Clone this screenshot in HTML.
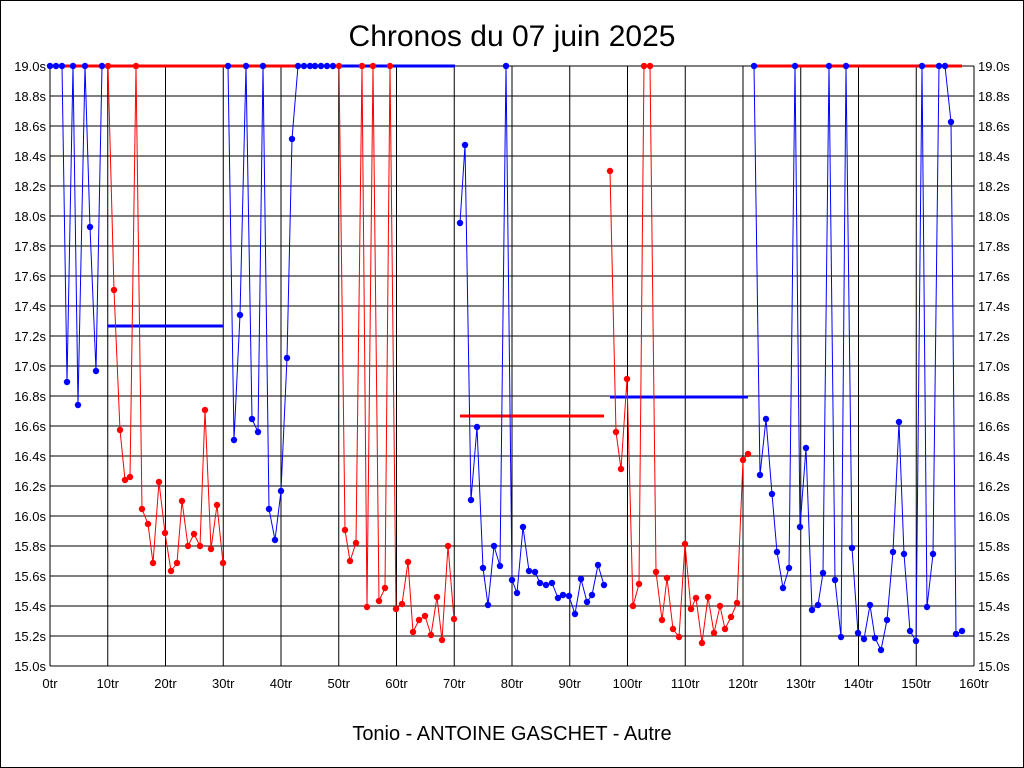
<!DOCTYPE html>
<html><head><meta charset="utf-8"><style>
body{margin:0;background:#fff}
svg{display:block;font-family:"Liberation Sans",sans-serif}
</style></head><body>
<svg width="1024" height="768" xmlns="http://www.w3.org/2000/svg">
<rect x="0.5" y="0.5" width="1023" height="767" fill="#fff" stroke="#000"/>
<text x="512" y="46" font-size="30" text-anchor="middle">Chronos du 07 juin 2025</text>
<text x="512" y="740" font-size="20" text-anchor="middle">Tonio - ANTOINE GASCHET - Autre</text>
<g id="grid" stroke="#000" stroke-width="1"></g>
<g id="lab" font-size="13"></g>
<g id="data"></g>
<script>
var g=document.getElementById('grid'),l=document.getElementById('lab'),d=document.getElementById('data');
var NS='http://www.w3.org/2000/svg';
function el(p,t,a,tx){var e=document.createElementNS(NS,t);for(var k in a)e.setAttribute(k,a[k]);if(tx)e.textContent=tx;p.appendChild(e);return e;}
for(var i=0;i<=20;i++){var y=66+i*30;el(g,'line',{x1:50,x2:974,y1:y,y2:y});
var v=(19-i*0.2).toFixed(1)+'s';el(l,'text',{x:46,y:y+5,'text-anchor':'end'},v);el(l,'text',{x:978,y:y+5},v);}
for(var i=0;i<=16;i++){var x=50+i*57.75;el(g,'line',{x1:x,x2:x,y1:66,y2:666});el(l,'text',{x:x,y:688,'text-anchor':'middle'},(i*10)+'tr');}
function series(pts,c){el(d,'polyline',{points:pts.map(p=>p.join(',')).join(' '),fill:'none',stroke:c,'stroke-width':1});
pts.forEach(p=>el(d,'circle',{cx:p[0],cy:p[1],r:3.2,fill:c}));}
function hl(x1,x2,y,c){el(d,'line',{x1:x1,x2:x2,y1:y,y2:y,stroke:c,'stroke-width':3});}
hl(108,223,326,'#0000ff');hl(460,604,416,'#ff0000');hl(610,748,397,'#0000ff');
hl(50,102,66,'#ff0000');hl(102,223,66,'#ff0000');hl(223,298,66,'#ff0000');hl(338,455,66,'#0000ff');hl(754,962,66,'#ff0000');
series([[50,66],[56,66],[62,66],[67,382],[73,66],[78,405],[85,66],[90,227],[96,371],[102,66]],'#0000ff');
series([[108,66],[114,290],[120,430],[125,480],[130,477],[136,66],[142,509],[148,524],[153,563],[159,482],[165,533],[171,571],[177,563],[182,501],[188,546],[194,534],[200,546],[205,410],[211,549],[217,505],[223,563]],'#ff0000');
series([[228,66],[234,440],[240,315],[246,66],[252,419],[258,432],[263,66],[269,509],[275,540],[281,491],[287,358],[292,139],[298,66],[304,66],[310,66],[315,66],[321,66],[327,66],[333,66]],'#0000ff');
series([[339,66],[345,530],[350,561],[356,543],[362,66],[367,607],[373,66],[379,601],[385,588],[390,66],[396,609],[402,604],[408,562],[413,632],[419,620],[425,616],[431,635],[437,597],[442,640],[448,546],[454,619]],'#ff0000');
series([[460,223],[465,145],[471,500],[477,427],[483,568],[488,605],[494,546],[500,566],[506,66],[512,580],[517,593],[523,527],[529,571],[535,572],[540,583],[546,585],[552,583],[558,598],[563,595],[569,596],[575,614],[581,579],[587,602],[592,595],[598,565],[604,585]],'#0000ff');
series([[610,171],[616,432],[621,469],[627,379],[633,606],[639,584],[644,66],[650,66],[656,572],[662,620],[667,578],[673,629],[679,637],[685,544],[691,609],[696,598],[702,643],[708,597],[714,633],[720,606],[725,629],[731,617],[737,603],[743,460],[748,454]],'#ff0000');
series([[754,66],[760,475],[766,419],[772,494],[777,552],[783,588],[789,568],[795,66],[800,527],[806,448],[812,610],[818,605],[823,573],[829,66],[835,580],[841,637],[846,66],[852,548],[858,633],[864,639],[870,605],[875,638],[881,650],[887,620],[893,552],[899,422],[904,554],[910,631],[916,641],[922,66],[927,607],[933,554],[939,66],[945,66],[951,122],[956,634],[962,631]],'#0000ff');
</script>
</svg>
</body></html>
